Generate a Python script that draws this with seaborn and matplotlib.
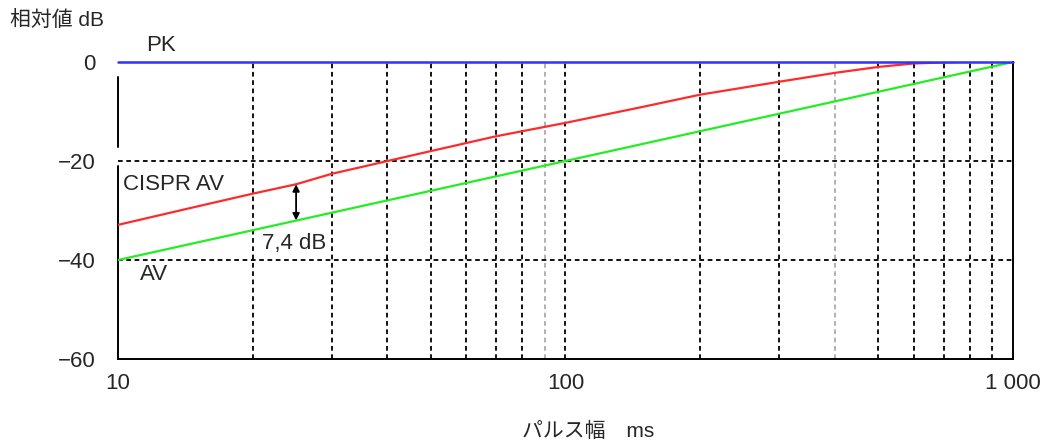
import numpy as np
import pandas as pd
import matplotlib
matplotlib.use('Agg')
import matplotlib.pyplot as plt
import seaborn as sns

# dados
pk_ms = [10, 1000]
pk_db = [0, 0]

cispr_ms = [10, 15, 20, 25, 30, 50, 70, 100, 150, 200, 300, 400, 500, 600, 750]
cispr_db = [-32.9, -29.2, -26.6, -24.7, -22.6, -18.0, -15.0, -12.3, -9.0, -6.6,
            -4.0, -2.2, -1.0, -0.3, 0.0]

av_ms = [10, 100, 1000]
av_db = [-40, -20, 0]

seta_ms = 25
seta_topo = -24.7
seta_base = -32.0

xticks = [10, 100, 1000]
xticklabels = ['10', '100', '1 000']
yticks = [0, -20, -40, -60]
grade_x = [20, 30, 40, 50, 60, 70, 80, 90, 100, 200, 300, 400, 500, 600, 700, 800, 900]
grade_x_cinza = [90, 400]
grade_y = [-20, -40]

sns.set_style('white')
plt.rcParams['font.family'] = ['Liberation Sans', 'Noto Sans CJK JP']
plt.rcParams['axes.unicode_minus'] = True

fig = plt.figure(figsize=(10.51, 4.44), dpi=100)
ax = fig.add_axes([0.1123, 0.1914, 0.8515, 0.669])

# linhas de grade tracejadas
traco = (0, (2.6, 2.0))
for gx in grade_x:
    cor = '#aaaaaa' if gx in grade_x_cinza else 'black'
    ax.axvline(gx, color=cor, lw=1.3, linestyle=traco, zorder=1)
for gy in grade_y:
    ax.axhline(gy, color='black', lw=1.3, linestyle=traco, zorder=1)

df_pk = pd.DataFrame({'ms': pk_ms, 'db': pk_db})
df_cispr = pd.DataFrame({'ms': cispr_ms, 'db': cispr_db})
df_av = pd.DataFrame({'ms': av_ms, 'db': av_db})

sns.lineplot(data=df_av, x='ms', y='db', color='#22ee22', lw=1.6, ax=ax, zorder=3)
sns.lineplot(data=df_cispr, x='ms', y='db', color='#ff2a2a', lw=1.6, ax=ax, zorder=3)
sns.lineplot(data=df_pk, x='ms', y='db', color='#3030ff', lw=1.8, ax=ax, zorder=4, clip_on=False)

ax.set_xscale('log')
ax.set_xlim(10, 1000)
ax.set_ylim(-60, 0)
ax.set_xticks(xticks)
ax.set_xticklabels(xticklabels)
ax.xaxis.set_minor_locator(matplotlib.ticker.NullLocator())
ax.set_yticks(yticks)
ax.tick_params(axis='both', length=0, labelsize=16)
ax.tick_params(axis='y', pad=16)
ax.tick_params(axis='x', pad=10)
ax.set_xlabel('')
ax.set_ylabel('')

ax.spines['top'].set_visible(False)
ax.spines['left'].set_visible(False)
for s in ['bottom', 'right']:
    ax.spines[s].set_color('black')
    ax.spines[s].set_linewidth(1.4)

# eixo esquerdo interrompido perto dos rótulos
ax.axvline(10, ymin=0, ymax=(60 - 21.0) / 60, color='black', lw=1.4, clip_on=False)
ax.axvline(10, ymin=(60 - 17.2) / 60, ymax=(60 - 3.0) / 60, color='black', lw=1.4, clip_on=False)

# seta 7,4 dB
ax.annotate('', xy=(seta_ms, seta_base), xytext=(seta_ms, seta_topo),
            arrowprops=dict(arrowstyle='<|-|>', color='black', lw=1.3,
                            mutation_scale=10, shrinkA=0, shrinkB=0))

ax.text(12.5, 3.4, 'PK', fontsize=16, ha='center', va='center')
ax.text(10.26, -24.8, 'CISPR AV', fontsize=16, ha='left', va='center')
ax.text(11.2, -43.0, 'AV', fontsize=16, ha='left', va='center')
ax.text(21.0, -36.6, '7,4 dB', fontsize=16, ha='left', va='center')

fig.text(10 / 1051, 1 - 20 / 444, '相対値 dB', fontsize=15, ha='left', va='center')
fig.text(588 / 1051, 1 - 431 / 444, 'パルス幅\u3000ms', fontsize=15, ha='center', va='center')

plt.savefig('out.png', dpi=100)
